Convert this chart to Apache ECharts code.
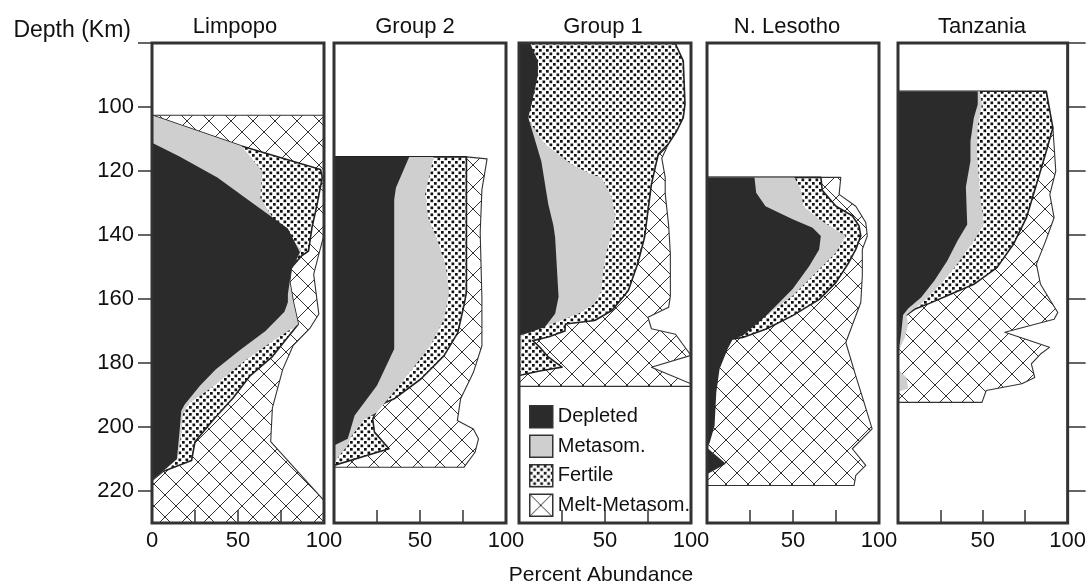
<!DOCTYPE html>
<html><head><meta charset="utf-8">
<script src="https://cdn.jsdelivr.net/npm/echarts@6/dist/echarts.min.js"></script>
<style>html,body{margin:0;padding:0;background:#fff}#c{width:1089px;height:586px}</style>
</head><body><div id="c"></div>
<script>
// ---------- categories & ticks ----------
const panelNames = ['Limpopo', 'Group 2', 'Group 1', 'N. Lesotho', 'Tanzania'];
const layerNames = ['Depleted', 'Metasom.', 'Fertile', 'Melt-Metasom.'];
const depthTicks = [80, 100, 120, 140, 160, 180, 200, 220];
const depthLabels = [100, 120, 140, 160, 180, 200, 220];
const pctTicks = [25, 50, 75];
const pctLabelsFirst = [0, 50, 100];
const pctLabelsOther = [50, 100];

// ---------- cumulative right edge of each layer: [percent, depth km] ----------
const limpopoDepleted = [[0,111.2],[16,115.5],[38,122],[61,131],[79,138],[86,145.4],[81,151],[79,158.5],[79,161],[77,164],[66,170],[51,176],[37,182],[28,187],[19,193],[17,195],[16,201.5],[14.5,210],[6,214],[0,216.7]];
const limpopoMetasom = [[0,102.6],[52,112.2],[64,120],[63,128.4],[71.5,135.6],[81,140.8],[87,145],[81,150.2],[80,154.3],[82,160.6],[85,167.9],[68,174],[54,179.3],[35,187.6],[21,192.8],[18,196],[17,202.2],[15,210],[6,214],[0,216.7]];
const limpopoFertile = [[0,102.6],[52,112.2],[98,119.5],[99,122],[96,130.4],[93,137.7],[91,145],[87,146.5],[81,150.2],[80,154.3],[82,160.6],[85,167.9],[78,172.6],[70,178],[57,184],[47,191],[36,197.5],[25,204.6],[23,210.5],[6,214],[0,216.7]];
const limpopoMelt = [[0,102.6],[100,102.6],[100,140],[97,146],[94,152.3],[96,160.6],[97,164.7],[92,169],[82,174.6],[76,182],[70,194],[69,204.6],[100,223],[100,230]];

const group2Depleted = [[0,115.6],[43.7,115.6],[36,125.2],[35,128.9],[35,175.6],[25,187],[12,196.4],[8,203.7],[0,205.8]];
const group2Metasom = [[0,115.6],[58,115.6],[53,127.3],[55,135],[60,141.4],[65,149.7],[67,158],[64,166.3],[56,174.6],[41,185],[25,195.4],[18,197.5],[10,203],[8,205.8],[3,209],[0,211.5]];
const group2Fertile = [[0,115.6],[77,115.6],[77,158],[75.5,162.1],[72,170.5],[64,177.7],[50.5,185],[35,191.2],[26,193.3],[22.5,197.5],[23.5,201.6],[32,206.8],[0,212]];
const group2Melt = [[77,115.6],[89,116.2],[86,125.8],[85,139.3],[86,160],[86,174.6],[81,183],[73.6,191.2],[71.7,198],[81,200.6],[84,203.7],[82,207.9],[75.5,212.6],[0,212.6]];

const group1Depleted = [[0,80],[6.4,80],[11,85.6],[11,90],[7.4,99.1],[5.4,103.3],[13,117],[17,130.3],[20,137],[21,140.7],[22,150],[23,159.4],[21,164.6],[15,168.8],[3.5,170.9],[0,171.4]];
const group1Metasom = [[0,103.3],[4.5,103.3],[15,111.6],[30.6,117.9],[42,121],[48,122],[54,128.2],[56,134.5],[54,139.7],[51,144.9],[49,151.1],[48,157.4],[44,161.5],[34.5,164.6],[19,167.8],[5.4,169.8],[1.5,171.9],[1.5,176],[0,178]];
const group1Fertile = [[0,80],[90.7,80],[95.5,85.6],[96.5,99.1],[95.5,103.3],[91.7,107.5],[86.8,111.6],[81,114.7],[77,124.1],[75,132.4],[73,140.7],[69,149],[63.5,157.4],[54,163.6],[44,166.7],[27,167.8],[26.7,170],[17,171.9],[8,173],[12,175],[17,178.1],[25,181.3],[12,182.5],[0,183.9]];
const group1Melt = [[86.8,111.6],[83,116],[85,122],[85,127],[87,137],[88,146],[88,159],[87,162.6],[75,165.7],[77,169.3],[91,171],[95,174],[100,177.6],[77,181.3],[100,186.5],[100,187.3],[0,187.3]];

const lesothoDepleted = [[0,122],[27.6,122],[28.6,126.8],[34,131],[49.8,135.1],[61.4,137.7],[66.2,140.3],[65.2,144.5],[59.5,149.7],[49.8,156.9],[34.4,165.2],[20.8,171.5],[15,172.5],[12,175.6],[7.3,181.9],[5.4,189.2],[4.4,199.6],[1.5,205],[0,206.5],[11,211.5],[0,214.8]];
const lesothoMetasom = [[0,122],[50.8,122],[54.6,125.7],[56,131],[65,135],[80.7,140.3],[75,145.5],[59.5,153.8],[49.8,159],[40,163],[34.4,165.2],[20,170],[0,172]];
const lesothoFertile = [[0,122],[66.2,122],[67,126],[75,131],[84.5,134],[88.4,137.2],[89.4,140.3],[86.5,144.5],[82,149],[74.9,154.9],[65.3,160.1],[49.8,165.2],[34.4,169.4],[20.8,172],[15,172.5],[0,173]];
const lesothoMelt = [[66.2,122],[77.8,122],[76.8,127.3],[86.5,131],[92.3,136.1],[93.2,140.3],[90.3,144.5],[90.3,152.8],[89.4,161.1],[80.7,173.6],[86.5,184],[91.3,192.3],[96,200.6],[84.5,206.8],[92.3,212],[86.5,215.1],[85.5,218.3],[0,218.3]];

const tanzaniaDepleted = [[0,95.1],[47,95.1],[47,99.2],[44.7,103.4],[42.7,110.7],[42.7,116.9],[40,125],[40.8,136.7],[35,141.9],[29,148.1],[21.4,154.3],[13.6,159.5],[6,163],[3,165],[2,170],[1,174],[0,175]];
const tanzaniaMetasom = [[0,95.1],[48.2,95.1],[49.5,99.2],[47,106],[46.6,113.8],[48,125],[50.5,136.7],[44.7,141.9],[35,149.1],[25.2,155.4],[15.5,160.6],[9.7,163],[5,165],[6,168],[4,172],[1.5,175],[0,176],[0,182],[5,184.5],[6,188],[0,189]];
const tanzaniaFertile = [[0,95.1],[87.4,95.1],[91.3,106.5],[87.4,113.8],[81.6,124.2],[75.7,134.6],[68,142.9],[58.3,150.2],[44.7,155.4],[31,158.5],[17.5,161.6],[9.7,163.2],[5,165],[0,166]];
const tanzaniaMelt = [[91.3,106.5],[93,120],[89.5,127.3],[92,134.6],[87,141.9],[81.6,149.1],[84,155.4],[90,160.6],[94.2,164.2],[92,166.3],[63,170.4],[89.3,175.1],[84,177.2],[78.6,180.3],[80.6,184.5],[73,186.5],[52,188.6],[49.5,192.3],[0,192.3]];

const panelEdges = [
  [limpopoDepleted, limpopoMetasom, limpopoFertile, limpopoMelt],
  [group2Depleted, group2Metasom, group2Fertile, group2Melt],
  [group1Depleted, group1Metasom, group1Fertile, group1Melt],
  [lesothoDepleted, lesothoMetasom, lesothoFertile, lesothoMelt],
  [tanzaniaDepleted, tanzaniaMetasom, tanzaniaFertile, tanzaniaMelt]
];

// ---------- styles ----------
const FONT = "'Liberation Sans', Arial, Helvetica, sans-serif";
const INK = '#111';
const FRAME = '#333';
const gridLefts = [152, 334, 519, 707, 898];
const titleCenters = [235, 415, 603, 787, 982];

function makeDots() {
  const c = document.createElement('canvas'); c.width = 7; c.height = 7;
  const g = c.getContext('2d');
  g.fillStyle = '#fff'; g.fillRect(0, 0, 7, 7);
  g.fillStyle = '#111';
  g.fillRect(0, 0, 2.7, 2.7); g.fillRect(3.5, 3.5, 2.7, 2.7);
  return { image: c, repeat: 'repeat' };
}
function makeHatch() {
  const T = 22;
  const c = document.createElement('canvas'); c.width = T; c.height = T;
  const g = c.getContext('2d');
  g.fillStyle = '#fff'; g.fillRect(0, 0, T, T);
  g.strokeStyle = '#333'; g.lineWidth = 1;
  g.beginPath();
  g.moveTo(-2, -2); g.lineTo(T + 2, T + 2);
  g.moveTo(T + 2, -2); g.lineTo(-2, T + 2);
  g.stroke();
  return { image: c, repeat: 'repeat' };
}
const fills = ['#2b2b2b', '#cfcfcf', makeDots(), makeHatch()];
const strokes = [null, null, '#222', '#333'];
const strokeWidths = [0, 0, 1.6, 1.1];

function closedPolygon(edge) {
  return [[0, edge[0][1]]].concat(edge, [[0, edge[edge.length - 1][1]]]);
}
function makeRender(poly, k) {
  return function (params, api) {
    if (params.dataIndex !== 0) return null;
    const pts = poly.map(p => api.coord(p));
    return {
      type: 'polygon',
      shape: { points: pts },
      style: { fill: fills[k], stroke: strokes[k], lineWidth: strokeWidths[k], lineJoin: 'round' }
    };
  };
}

const grids = [], xAxes = [], yAxes = [], series = [];
panelNames.forEach((name, i) => {
  grids.push({ left: gridLefts[i], top: 43, width: 172, height: 480, show: true,
    borderColor: FRAME, borderWidth: 3, backgroundColor: 'transparent', z: 20 });
  const labs = i === 0 ? pctLabelsFirst : pctLabelsOther;
  xAxes.push({ gridIndex: i, type: 'value', min: 0, max: 100, interval: 25, position: 'bottom', z: 21,
    axisLine: { show: false, onZero: false },
    axisTick: { show: true, inside: true, length: 13, customValues: pctTicks, lineStyle: { color: FRAME, width: 1.5 } },
    axisLabel: { customValues: labs, fontSize: 22, margin: 7, color: INK, fontFamily: FONT,
      formatter: v => (labs.indexOf(v) >= 0 ? String(v) : '') },
    splitLine: { show: false } });
  const showTicks = i === 0 || i === 4;
  yAxes.push({ gridIndex: i, type: 'value', min: 80, max: 230, interval: 20, inverse: true,
    position: i === 4 ? 'right' : 'left', z: 21,
    axisLine: { show: false, onZero: false },
    axisTick: { show: showTicks, inside: false, length: i === 4 ? 18 : 14, customValues: depthTicks, lineStyle: { color: FRAME, width: 1.5 } },
    axisLabel: { show: i === 0, customValues: depthLabels, fontSize: 22, margin: 18, color: INK, fontFamily: FONT,
      formatter: v => (depthLabels.indexOf(v) >= 0 ? String(v) : '') },
    splitLine: { show: false } });
  [3, 2, 1, 0].forEach(k => {
    const poly = closedPolygon(panelEdges[i][k]);
    series.push({
      type: 'custom', name: layerNames[k], xAxisIndex: i, yAxisIndex: i,
      z: 2 + (3 - k), clip: true, silent: true,
      itemStyle: { color: fills[k] },
      data: poly, renderItem: makeRender(poly, k)
    });
  });
});

const titles = panelNames.map((n, i) => ({ text: n, left: titleCenters[i], top: 16, textAlign: 'center', padding: 0,
  textStyle: { fontSize: 22, fontWeight: 'normal', color: INK, fontFamily: FONT } }));
titles.push({ text: 'Depth (Km)', left: 131, top: 19, textAlign: 'right', padding: 0,
  textStyle: { fontSize: 23, fontWeight: 'normal', color: INK, fontFamily: FONT } });
titles.push({ text: 'Percent Abundance', left: 601, top: 565, textAlign: 'center', padding: 0,
  textStyle: { fontSize: 21, fontWeight: 'normal', color: INK, fontFamily: FONT } });

const chart = echarts.init(document.getElementById('c'), null, { renderer: 'canvas' });
chart.setOption({
  animation: false,
  backgroundColor: '#fff',
  title: titles,
  legend: { data: layerNames, orient: 'vertical', left: 529, top: 405, padding: 0,
    itemWidth: 23, itemHeight: 22, itemGap: 6, icon: 'rect', selectedMode: false, z: 30,
    itemStyle: { borderColor: '#333', borderWidth: 1.5 },
    textStyle: { fontSize: 20, color: INK, fontFamily: FONT } },
  grid: grids, xAxis: xAxes, yAxis: yAxes, series: series
});
</script></body></html>
